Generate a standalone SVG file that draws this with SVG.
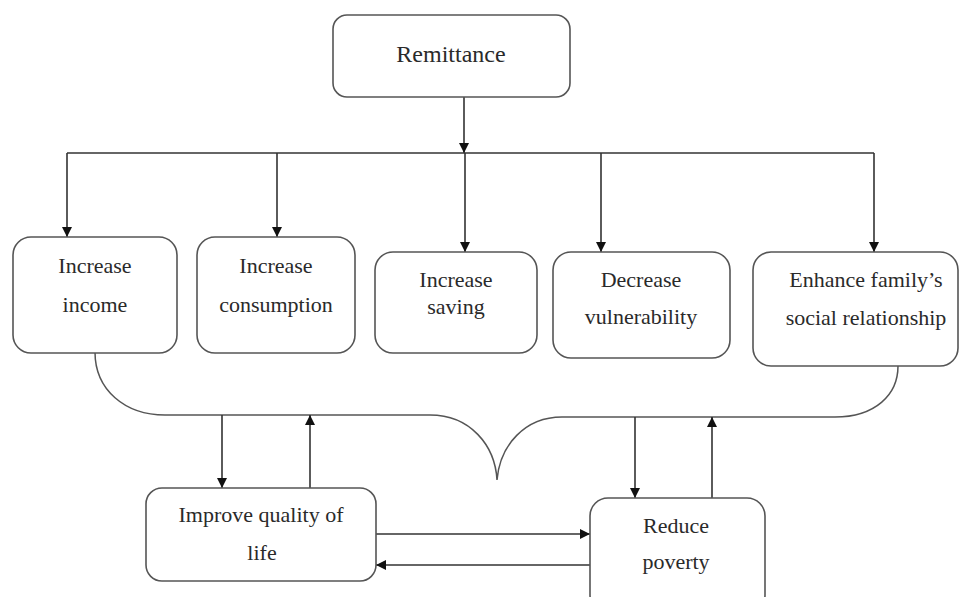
<svg xmlns="http://www.w3.org/2000/svg" width="959" height="597" viewBox="0 0 959 597">
<style>
.box{fill:#fff;stroke:#555;stroke-width:1.6}
.t{font-family:'Liberation Serif','DejaVu Serif',serif;font-size:22px;fill:#2a2a2a;text-anchor:middle}
.t1{font-size:24px}
.c{fill:none;stroke:#333;stroke-width:1.6}
.br{fill:none;stroke:#555;stroke-width:1.5}
</style>
<defs>
<marker id="ah" viewBox="0 0 10 10" refX="10" refY="5" markerWidth="10" markerHeight="10" markerUnits="userSpaceOnUse" orient="auto">
<path d="M0,0 L10,5 L0,10 Z" fill="#111"/>
</marker>
</defs>
<rect width="959" height="597" fill="#fff"/>
<g id="connectors">
<line class="c" x1="464" y1="97" x2="464" y2="153" marker-end="url(#ah)"/>
<line class="c" x1="67" y1="153" x2="874" y2="153"/>
<line class="c" x1="67" y1="153" x2="67" y2="237" marker-end="url(#ah)"/>
<line class="c" x1="277" y1="153" x2="277" y2="237" marker-end="url(#ah)"/>
<line class="c" x1="465" y1="153" x2="465" y2="252" marker-end="url(#ah)"/>
<line class="c" x1="601" y1="153" x2="601" y2="252" marker-end="url(#ah)"/>
<line class="c" x1="874" y1="153" x2="874" y2="252" marker-end="url(#ah)"/>
<path class="br" d="M95,352 C95,390 125,415 165,415 L430,415 C470,415 495,445 497,480 C500,445 525,417 562,417 L835,417 C875,417 898,395 898,366"/>
<line class="c" x1="222" y1="415" x2="222" y2="488" marker-end="url(#ah)"/>
<line class="c" x1="310" y1="488" x2="310" y2="415" marker-end="url(#ah)"/>
<line class="c" x1="635" y1="417" x2="635" y2="498" marker-end="url(#ah)"/>
<line class="c" x1="712" y1="498" x2="712" y2="417" marker-end="url(#ah)"/>
<line class="c" x1="376" y1="534" x2="590" y2="534" marker-end="url(#ah)"/>
<line class="c" x1="590" y1="565" x2="376" y2="565" marker-end="url(#ah)"/>
</g>
<g id="remittance">
<rect class="box" x="333" y="15" width="237" height="82" rx="14"/>
<text class="t t1" x="451" y="62" font-family="Liberation Serif, serif">Remittance</text>
</g>
<g id="increase-income">
<rect class="box" x="13" y="237" width="164" height="116" rx="18"/>
<text class="t" x="95" y="273">Increase</text>
<text class="t" x="95" y="312">income</text>
</g>
<g id="increase-consumption">
<rect class="box" x="197" y="237" width="158" height="116" rx="18"/>
<text class="t" x="276" y="273">Increase</text>
<text class="t" x="276" y="312">consumption</text>
</g>
<g id="increase-saving">
<rect class="box" x="375" y="252" width="162" height="101" rx="18"/>
<text class="t" x="456" y="287">Increase</text>
<text class="t" x="456" y="314">saving</text>
</g>
<g id="decrease-vulnerability">
<rect class="box" x="553" y="252" width="177" height="106" rx="18"/>
<text class="t" x="641" y="287">Decrease</text>
<text class="t" x="641" y="324">vulnerability</text>
</g>
<g id="enhance-social">
<rect class="box" x="753" y="252" width="205" height="114" rx="18"/>
<text class="t" x="866" y="287">Enhance family’s</text>
<text class="t" x="866" y="325">social relationship</text>
</g>
<g id="improve-quality">
<rect class="box" x="146" y="488" width="230" height="93" rx="16"/>
<text class="t" x="261" y="522">Improve quality of</text>
<text class="t" x="262" y="560">life</text>
</g>
<g id="reduce-poverty">
<rect class="box" x="590" y="498" width="175" height="115" rx="18"/>
<text class="t" x="676" y="533">Reduce</text>
<text class="t" x="676" y="569">poverty</text>
</g>
</svg>
